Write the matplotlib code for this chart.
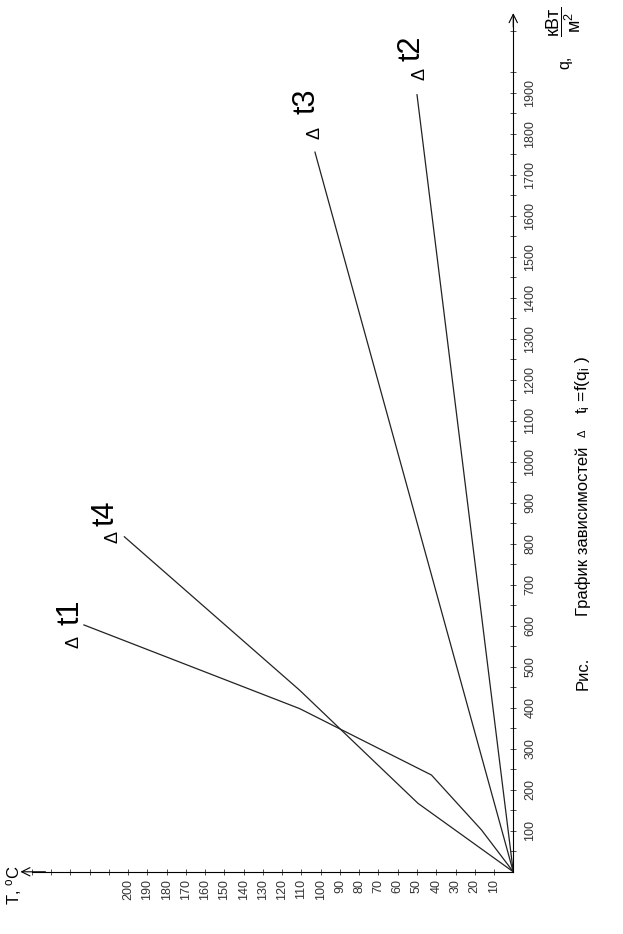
import matplotlib
matplotlib.use("Agg")
import matplotlib.pyplot as plt
from matplotlib import font_manager
from matplotlib.ticker import FixedLocator

plt.rcParams['font.family'] = ['Liberation Sans', 'DejaVu Sans']
plt.rcParams['mathtext.fontset'] = 'custom'
plt.rcParams['mathtext.rm'] = 'Liberation Sans'
plt.rcParams['mathtext.it'] = 'Liberation Sans:italic'

installed = {f.name for f in font_manager.fontManager.ttflist}
narrow = 'Liberation Sans Narrow' if 'Liberation Sans Narrow' in installed else 'Liberation Sans'

# curves: T (deg C) vs q (kW/m2)
t1_T = [0, 16.5, 42.5, 111, 223]
t1_q = [0, 102, 236, 398, 602]
t4_T = [0, 49.5, 111, 202]
t4_q = [0, 167, 443, 817]
t3_T = [0, 103]
t3_q = [0, 1755]
t2_T = [0, 50]
t2_q = [0, 1895]

T_ticks = list(range(10, 210, 10))
q_ticks = list(range(100, 2000, 100))

fig = plt.figure(figsize=(6.23, 9.34), dpi=100)
ax = fig.add_axes([0, 0, 1, 1])
# chart is turned on its side: T runs right->left, q runs bottom->top
ax.set_xlim(266.6, -57.0)
ax.set_ylim(-151.7, 2126)

for s in ['top', 'left']:
    ax.spines[s].set_visible(False)
ax.spines['right'].set_position(('data', 0))
ax.spines['bottom'].set_position(('data', 0))
ax.spines['right'].set_bounds(0, 2085)
ax.spines['bottom'].set_bounds(0, 250)
for s in ['right', 'bottom']:
    ax.spines[s].set_linewidth(0.8)

ax.yaxis.set_ticks_position('right')
ax.xaxis.set_ticks_position('bottom')
ax.set_xticks(T_ticks)
ax.set_xticklabels([str(v) for v in T_ticks], rotation=90, family=narrow)
ax.set_yticks(q_ticks)
ax.set_yticklabels([str(v) for v in q_ticks], rotation=90, va='center', family=narrow)
ax.xaxis.set_minor_locator(FixedLocator(list(range(210, 260, 10))))
ax.yaxis.set_minor_locator(FixedLocator([50 + 100 * i for i in range(21)]))
ax.tick_params(which='both', direction='inout', length=4, width=0.6, color='#333')
ax.tick_params(axis='x', labelsize=9, pad=3, labelcolor='#333')
ax.tick_params(axis='y', labelsize=9, pad=6, labelcolor='#333')

# arrow heads
arr = dict(arrowstyle='->,head_length=0.6,head_width=0.3', lw=0.8, color='k',
           shrinkA=0, shrinkB=0)
ax.annotate('', xy=(256, 0), xytext=(243, 0), arrowprops=arr)
ax.annotate('', xy=(0, 2094), xytext=(0, 2060), arrowprops=arr)

lc = '#222222'
ax.plot(t1_T, t1_q, color=lc, lw=0.9)
ax.plot(t4_T, t4_q, color=lc, lw=0.9)
ax.plot(t3_T, t3_q, color=lc, lw=0.9)
ax.plot(t2_T, t2_q, color=lc, lw=0.9)

# curve labels
for (dx, dy), (nx, ny), name in [((228, 561), (230, 634), 't1'),
                                 ((208, 817), (212, 874), 't4'),
                                 ((103, 1801), (107.6, 1878), 't3'),
                                 ((48.5, 1946), (52.8, 2008), 't2')]:
    ax.text(dx, dy, 'Δ', rotation=90, ha='center', va='center', fontsize=13)
    ax.text(nx, ny, name, rotation=90, ha='center', va='center',
            fontsize=22, family=narrow)

# axis titles
ax.text(259.4, -33, r'T, $^{\mathrm{o}}$C', rotation=90, ha='center', va='center',
        fontsize=12)
ax.text(-26.9, 1975, 'q,', rotation=90, ha='center', va='center', fontsize=11.5)
ax.text(-26.0, 2072, r'$\dfrac{\mathrm{кВт}}{\mathrm{м}^{2}}$', rotation=90,
        ha='center', va='center', fontsize=13)

# caption
cx = -36.2
ax.text(cx, 485, 'Рис.', rotation=90, ha='center', va='center', fontsize=12)
ax.text(cx, 831, 'График зависимостей', rotation=90, ha='center', va='center',
        fontsize=12)
ax.text(cx, 1070, 'Δ', rotation=90, ha='center', va='center', fontsize=8)
ax.text(cx, 1187, r't$_{\mathrm{i}}$ =f(q$_{\mathrm{i}}$ )', rotation=90,
        ha='center', va='center', fontsize=12.5)

fig.savefig('out.png', dpi=100, facecolor='white')
